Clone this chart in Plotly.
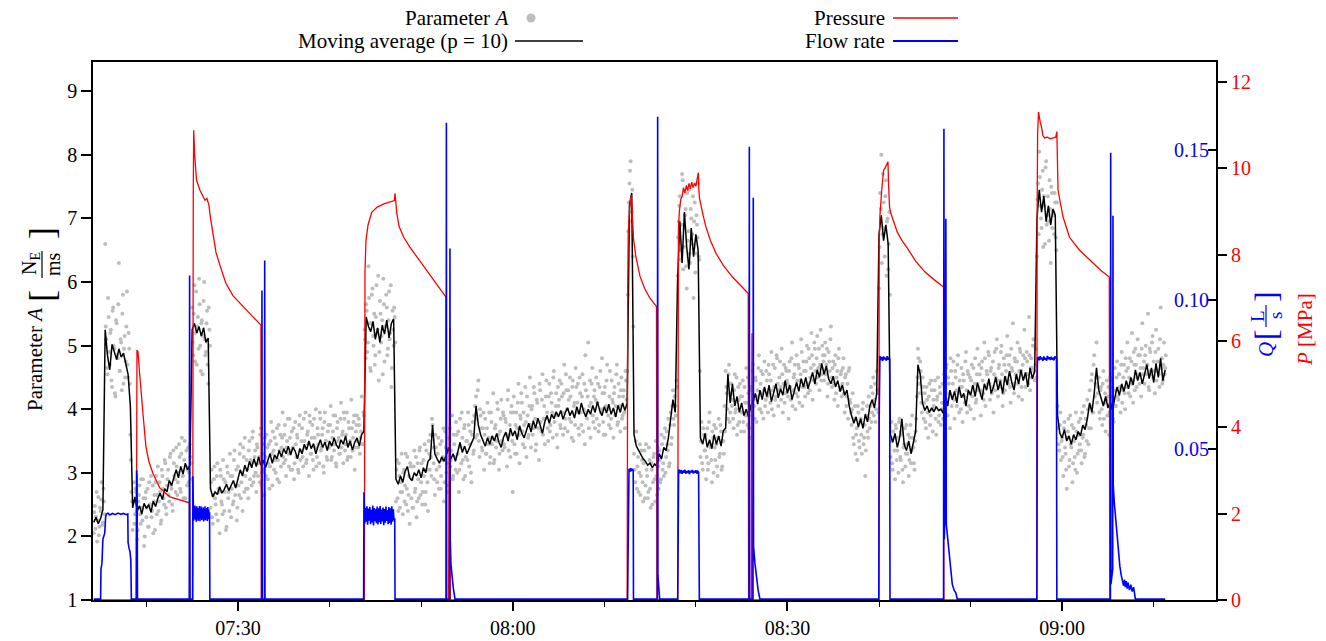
import pandas as pd
import plotly.graph_objects as go

BASE = pd.Timestamp("2021-06-01 07:00:00")
FONT = "Liberation Serif, Times New Roman, serif"

# ---------------- data (time in minutes after 07:00) ----------------
MA_STEP = 0.25     # moving-average samples every 15 s
RAW_STEP = 0.125   # Parameter A samples (two interleaved sample series)

# Moving average (p = 10): (start minute, values)
ma_segments = [
    (14.25, [2.22, 2.30, 2.20, 2.28, 2.42]),
    (15.5, [5.25, 4.85, 4.62, 5.02, 4.90, 4.78, 4.95, 4.82, 4.88, 4.70, 4.55, 4.05]),
    (18.5, [2.45, 2.62, 2.40, 2.48, 2.35, 2.52, 2.44, 2.50, 2.38, 2.55,
            2.47, 2.60, 2.68, 2.58, 2.75, 2.70, 2.88, 2.80, 2.95, 3.05,
            2.92, 3.10, 2.98, 3.15, 3.05, 3.12]),
    (25.0, [5.25, 5.35, 5.20, 5.30, 5.15, 5.28, 5.05, 5.12]),
    (27.0, [2.75, 2.62, 2.70, 2.66, 2.78, 2.68, 2.74, 2.82, 2.72, 2.80,
            2.88, 2.76, 2.92, 3.05, 2.95, 3.12, 3.02, 3.18, 3.08, 3.22,
            3.10, 3.25, 3.12, 3.20, 3.08, 3.18, 3.30, 3.15, 3.28, 3.22,
            3.35, 3.25, 3.38, 3.30, 3.42, 3.28, 3.40, 3.34, 3.22, 3.38,
            3.30, 3.45, 3.36, 3.50, 3.38, 3.46, 3.30, 3.42, 3.52, 3.40,
            3.48, 3.35, 3.50, 3.42, 3.55, 3.44, 3.38, 3.52, 3.45, 3.58,
            3.40, 3.50, 3.36, 3.48, 3.55, 3.42, 3.60]),
    (43.75, [3.65, 5.45, 5.30, 5.22, 5.38, 5.10, 5.28, 5.05, 5.32, 5.18, 5.40, 5.12, 5.35, 5.42]),
    (47.25, [2.90, 2.82, 2.95, 2.85, 3.02, 3.10, 2.92, 2.88, 3.00, 2.95,
             3.05, 2.92, 3.08, 3.00, 3.18, 3.22, 3.75, 3.30, 3.22, 3.15,
             3.25, 3.18, 3.28, 3.40, 3.22, 3.30, 3.18, 3.35, 3.48, 3.32,
             3.42, 3.30, 3.38, 3.45, 3.55, 4.05, 3.75, 3.60, 3.52, 3.42,
             3.55, 3.45, 3.58, 3.50, 3.62, 3.48, 3.40, 3.56, 3.64, 3.50,
             3.70, 3.58, 3.66, 3.52, 3.74, 3.62, 3.55, 3.68, 3.78, 3.64,
             3.82, 3.70, 3.86, 3.75, 3.62, 3.80, 3.90, 3.78, 3.92, 3.85,
             3.96, 3.88, 3.98, 3.84, 3.95, 4.02, 3.90, 3.98, 3.86, 4.04,
             3.92, 4.10, 3.96, 3.88, 4.00, 3.92, 4.06, 3.95, 4.12, 3.98,
             3.90, 4.04, 3.94, 4.08, 3.92, 4.02, 3.88, 4.06, 3.95, 4.10,
             3.98]),
    (72.5, [4.10, 7.20, 7.40]),
    (73.25, [3.60, 3.42, 3.35, 3.28, 3.22, 3.18, 3.12, 3.15, 3.08, 3.14,
             3.10, 3.30, 3.22, 3.40, 3.35, 3.55, 3.90, 4.15, 3.95]),
    (78.0, [6.00, 6.95, 6.30, 7.10, 6.55, 6.20, 6.85, 6.40, 6.75, 6.50]),
    (80.5, [3.55, 3.45, 3.62, 3.40, 3.52, 3.38, 3.60, 3.45, 3.58, 3.42, 3.66,
            3.70, 4.55, 4.10, 4.40, 4.05, 4.20, 3.95, 4.10, 3.90, 4.00, 3.88, 4.05,
            4.12, 4.25, 4.08, 4.30, 4.15, 4.35, 4.20, 4.38, 4.12, 4.28,
            4.40, 4.18, 4.32, 4.22, 4.45, 4.25, 4.38, 4.15, 4.30, 4.42,
            4.28, 4.48, 4.35, 4.50, 4.32, 4.45, 4.58, 4.40, 4.62, 4.50,
            4.72, 4.55, 4.68, 4.48, 4.40, 4.52, 4.35, 4.45, 4.28, 4.38,
            4.22, 4.30, 4.05, 3.90, 3.78, 3.88, 3.72, 3.85, 3.70, 3.92,
            3.80, 4.05, 4.15, 4.02, 4.25]),
    (100.0, [6.75, 7.05, 6.65, 6.90, 6.60]),
    (101.25, [3.60, 3.48, 3.62, 3.40, 3.55, 3.85, 3.45, 3.35, 3.50, 3.30,
              3.45, 3.65, 4.70, 4.55, 4.10, 3.98, 4.05, 3.95, 4.02, 3.96,
              4.04, 3.98, 4.00, 3.94, 4.20, 4.05, 4.30, 4.15, 4.28, 4.10,
              4.35, 4.18, 4.25, 4.05, 4.30, 4.22, 4.38, 4.20, 4.42, 4.28,
              4.15, 4.40, 4.30, 4.48, 4.25, 4.35, 4.50, 4.30, 4.45, 4.25,
              4.52, 4.38, 4.60, 4.42, 4.30, 4.55, 4.40, 4.62, 4.45, 4.58,
              4.35, 4.65, 4.48, 4.60]),
    (117.25, [7.00, 7.45, 7.10, 7.35, 6.95, 7.20, 6.90, 7.15, 7.05]),
    (119.5, [3.90, 3.62, 3.55, 3.68, 3.50, 3.58, 3.45, 3.60, 3.52, 3.65,
             3.58, 3.75, 3.68, 3.85, 4.10, 3.95, 4.25, 4.65, 4.30, 4.15,
             4.05, 4.20, 4.02, 4.12, 3.98, 4.18, 4.35, 4.22, 4.40, 4.28,
             4.45, 4.32, 4.50, 4.38, 4.62, 4.45, 4.58, 4.40, 4.55, 4.70,
             4.48, 4.65, 4.42, 4.72, 4.50, 4.80, 4.45, 4.62]),
]

# Parameter A samples, series 1: (start minute, values every RAW_STEP)
param_a_segments = [
    (14.25, [2.05, 2.48, 2.31, 1.92, 2.62, 2.15, 2.40, 2.85, 2.22, 2.55]),
    (15.5, [6.60, 5.10, 4.55, 5.45, 4.70, 5.25, 4.35, 5.60, 4.95, 4.20, 5.35, 4.80,
            6.30, 4.60, 5.05, 5.50, 4.40, 5.15, 4.75, 5.85, 4.50, 4.95, 3.60, 2.70]),
    (18.5, [2.10, 2.85, 2.35, 2.70, 1.95, 2.55, 2.80, 2.20, 2.45, 2.90,
            1.85, 2.60, 2.30, 2.75, 2.15, 2.50, 2.95, 2.40, 2.05, 2.65,
            2.85, 2.35, 3.10, 2.55, 2.70, 2.25, 2.95, 2.60, 3.20, 2.45,
            2.80, 3.05, 2.55, 3.30, 2.75, 2.40, 3.15, 2.90, 3.40, 2.65,
            3.00, 3.25, 2.70, 3.55, 2.95, 3.20, 2.60, 3.35, 3.05, 2.85,
            3.45, 3.15]),
    (25.0, [5.60, 4.85, 5.95, 5.20, 4.70, 5.45, 6.05, 5.00, 5.35, 4.55, 5.70, 5.10,
            4.90, 5.55, 4.40, 5.25]),
    (27.0, [2.45, 3.05, 2.20, 2.90, 2.60, 2.35, 3.15, 2.75,
            2.05, 2.95, 2.50, 3.20, 2.40, 2.85, 2.15, 3.00,
            2.70, 3.30, 2.30, 2.95, 2.55, 3.35, 2.80, 2.25,
            3.10, 2.65, 3.45, 2.85, 2.40, 3.25, 3.55, 2.75,
            3.05, 2.60, 3.50, 3.20, 2.80, 3.65, 2.95, 3.35,
            2.70, 3.40, 3.15, 2.85, 3.70, 3.00, 3.45, 2.65,
            3.25, 3.60, 2.90, 3.45, 3.10, 3.80, 2.80, 3.35,
            3.55, 3.00, 3.70, 3.20, 2.85, 3.60, 3.40, 3.95,
            3.15, 3.75, 2.95, 3.50, 3.30, 3.85, 3.05, 3.65,
            3.40, 2.90, 3.80, 3.25, 3.55, 3.00, 3.90, 3.35,
            3.70, 3.10, 3.50, 3.95, 3.20, 3.65, 2.95, 3.80,
            3.30, 3.75, 3.05, 3.55, 4.00, 3.25, 3.60, 3.15,
            3.85, 3.40, 3.70, 3.00, 3.95, 3.50, 3.20, 3.75,
            3.45, 4.05, 3.25, 3.65, 3.35, 3.90, 3.10, 3.80,
            3.55, 3.30, 4.10, 3.60, 3.15, 3.85, 3.45, 3.95,
            3.25, 3.70, 3.50, 4.15, 3.35, 3.80, 3.05, 3.65,
            3.90, 3.40, 3.75, 3.55, 4.20, 3.45]),
    (43.75, [3.90, 5.10, 5.65, 4.90, 6.25, 5.35, 4.60, 5.80, 5.15, 5.50, 4.85, 5.95,
             5.25, 4.45, 5.70, 5.05, 5.40, 6.05, 4.75, 5.30, 5.60, 4.95, 5.85, 5.20,
             4.35, 5.55, 5.00, 5.45]),
    (47.25, [2.55, 3.20, 2.40, 2.95, 2.70, 3.30,
             2.35, 3.05, 2.80, 2.50, 3.25, 2.65, 2.20, 3.10,
             2.90, 2.45, 3.35, 2.75, 2.30, 3.15, 2.60, 3.40,
             2.85, 2.50, 3.20, 3.45, 2.70, 3.05, 2.40, 3.30,
             3.60, 2.95, 3.75, 3.15, 2.65, 3.40, 2.85, 3.55,
             3.10, 2.75, 3.50, 3.25, 2.55, 3.65, 3.00, 3.35,
             2.80, 3.70, 3.20, 3.90, 2.95, 3.45, 3.05, 3.60,
             3.30, 2.70, 3.85, 3.15, 3.55, 2.90, 3.75, 3.25,
             3.50, 3.95, 3.10, 3.65, 2.85, 3.80, 3.35, 4.05,
             4.20, 3.60, 4.45, 3.25, 3.90, 3.40, 3.70, 3.05,
             3.85, 3.30, 4.10, 3.55, 3.15, 3.95, 3.45, 4.25,
             3.20, 3.75, 3.50, 4.00, 3.05, 3.65, 4.15, 3.35,
             3.90, 3.40, 3.80, 3.10, 4.30, 3.60, 3.25, 4.05,
             2.70, 4.20, 3.30, 3.95, 3.70, 4.40, 3.15, 3.85,
             4.10, 3.45, 3.75, 4.35, 3.25, 3.90, 3.60, 4.50,
             3.40, 4.05, 3.70, 4.25, 3.35, 4.15, 3.80, 3.20,
             4.30, 3.65, 4.55, 3.85, 3.45, 4.20, 3.95, 3.50,
             4.40, 3.75, 4.10, 3.55, 4.60, 3.90, 4.25, 3.40,
             4.05, 4.45, 3.70, 4.20, 3.60, 4.70, 3.85, 4.30,
             3.65, 4.15, 4.50, 3.80, 4.35, 3.50, 4.10, 4.65,
             3.95, 4.40, 3.60, 4.25, 3.75, 4.55, 4.00, 3.45,
             4.30, 3.85, 5.05, 4.05, 3.55, 4.40, 3.90, 4.20,
             3.70, 4.50, 4.10, 3.65, 4.35, 3.95, 4.80, 3.80,
             4.25, 3.60, 4.45, 4.00, 3.75, 4.60, 3.85, 4.15,
             3.55, 4.35, 4.05, 4.70, 3.80, 4.20, 3.65, 4.50,
             3.90, 4.30, 3.70, 4.45]),
    (72.5, [4.60, 6.80, 7.55, 7.90, 7.10, 6.40]),
    (73.25, [3.30, 2.85, 3.65, 3.10, 2.70, 3.45, 2.95, 3.20, 2.55, 3.35,
             2.80, 3.05, 2.60, 3.40, 2.75, 3.15, 2.50, 3.25, 2.90, 3.50,
             2.65, 3.10, 3.35, 2.85, 3.60, 3.05, 2.95, 3.70, 3.25, 3.45,
             3.85, 3.15, 3.95, 3.55, 4.30, 3.75, 4.05, 4.45]),
    (78.0, [6.10, 6.95, 7.35, 6.50, 7.70, 6.20, 6.85, 7.15, 5.90, 6.65,
            7.45, 6.30, 7.00, 6.75, 5.75, 7.25, 6.45, 6.90, 7.55, 6.35]),
    (80.5, [3.25, 3.80, 3.05, 3.60,
            3.35, 2.90, 3.70, 3.15, 3.95, 3.40, 2.85, 3.55,
            3.75, 3.20, 3.45, 2.95, 3.85, 3.30, 3.65, 3.10,
            3.50, 4.05, 4.60, 4.25, 3.85, 4.70, 3.95, 4.40,
            4.15, 3.70, 4.55, 4.00, 3.60, 4.35, 3.80, 4.20,
            3.95, 4.45, 3.65, 4.10, 4.65, 3.75, 4.25, 3.55,
            4.35, 3.90, 4.70, 4.05, 4.50, 3.80, 4.30, 4.85,
            4.00, 4.60, 4.25, 3.85, 4.75, 4.15, 4.45, 3.95,
            4.55, 4.10, 4.90, 4.30, 3.90, 4.65, 4.20, 4.80,
            4.05, 4.50, 4.35, 4.95, 3.95, 4.70, 4.25, 4.60,
            4.40, 3.85, 4.75, 4.15, 5.05, 4.30, 4.55, 4.00,
            4.85, 4.20, 4.65, 4.45, 5.10, 4.05, 4.75, 4.35,
            4.60, 5.00, 4.25, 4.80, 4.50, 5.20, 4.15, 4.70,
            4.95, 4.40, 5.15, 4.65, 4.30, 5.25, 4.55, 4.85,
            4.45, 5.05, 4.70, 4.20, 4.90, 4.60, 5.30, 4.35,
            4.75, 4.15, 4.85, 4.50, 4.05, 4.95, 4.30, 4.60,
            4.40, 4.80, 3.95, 4.55, 4.20, 3.85, 4.65, 4.10,
            3.75, 4.25, 3.45, 4.05, 3.60, 3.20, 3.95, 3.40,
            3.85, 3.30, 4.10, 3.55, 2.95, 3.90, 3.65, 4.20,
            3.70, 4.35, 3.95, 4.50, 4.15, 3.80, 4.60, 4.25]),
    (100.0, [5.90, 7.40, 8.00, 6.75, 7.25, 6.40, 7.60, 6.95, 6.20, 7.10]),
    (101.25, [3.25, 3.80, 3.05, 3.55, 2.90, 3.70,
              3.35, 3.00, 3.85, 3.20, 3.60, 2.85, 3.45, 3.10,
              3.75, 3.30, 2.95, 3.55, 3.15, 3.90, 3.40, 3.05,
              3.65, 4.20, 4.95, 4.40, 4.75, 4.10, 4.50, 3.85,
              4.25, 3.70, 4.15, 3.55, 4.40, 3.90, 4.30, 3.65,
              4.05, 4.45, 3.60, 4.20, 3.80, 4.35, 3.75, 4.10,
              3.85, 4.55, 4.00, 4.70, 3.90, 4.40, 3.70, 4.60,
              4.20, 4.75, 3.85, 4.50, 4.05, 4.85, 3.95, 4.35,
              4.65, 3.80, 4.45, 4.10, 4.90, 3.95, 4.55, 4.25,
              4.00, 4.70, 4.35, 3.85, 4.80, 4.15, 4.95, 4.30,
              4.55, 3.90, 4.75, 4.25, 5.05, 4.05, 4.60, 4.40,
              4.85, 4.15, 4.65, 4.35, 3.95, 4.90, 4.50, 5.10,
              4.20, 4.70, 4.45, 5.00, 4.05, 4.80, 4.30, 4.60,
              5.15, 4.40, 4.85, 4.10, 4.65, 5.35, 4.25, 4.75,
              4.50, 5.05, 4.20, 4.95, 4.60, 4.15, 4.85, 5.25,
              4.35, 4.90, 4.55, 5.45, 4.30, 4.80, 4.65, 5.10,
              4.45, 4.95]),
    (117.25, [6.40, 7.55, 8.05, 7.20, 6.85, 7.75, 7.35, 6.60, 7.90, 7.05, 6.95, 7.60,
              6.30, 7.40, 7.10, 6.75, 7.25, 6.50]),
    (119.5, [4.05, 3.45, 3.75, 3.20,
             3.55, 2.95, 3.80, 3.30, 2.75, 3.65, 3.10, 3.90,
             3.40, 2.85, 3.70, 3.25, 3.95, 3.00, 3.60, 3.35,
             3.85, 3.15, 3.55, 4.05, 3.30, 3.75, 4.15, 3.45,
             4.30, 3.70, 4.55, 3.95, 4.85, 4.40, 5.05, 4.25,
             4.50, 3.85, 4.35, 3.75, 4.60, 4.10, 3.65, 4.45,
             4.20, 3.60, 4.50, 3.90, 4.35, 3.80, 4.65, 4.05,
             4.75, 4.15, 4.55, 3.95, 4.90, 4.30, 4.70, 4.00,
             4.60, 5.05, 4.25, 4.80, 4.40, 5.20, 4.10, 4.70,
             4.95, 4.35, 5.10, 4.55, 4.85, 4.20, 5.35, 4.65,
             4.40, 5.00, 4.70, 5.50, 4.30, 4.90, 4.55, 5.15,
             4.75, 4.25, 5.25, 4.60, 4.95, 4.35, 5.60, 4.80,
             4.45, 5.05, 4.65]),
]

# Parameter A samples, series 2 (interleaved, half a step later)
param_a_segments_b = [
    (14.3125, [2.38, 2.12, 2.70, 2.25, 2.02, 2.45, 2.58, 2.18, 2.75, 2.35]),
    (15.5625, [5.30, 4.65, 5.75, 4.90, 5.20, 4.45, 5.55, 5.00, 4.25, 5.40, 4.85, 5.65,
               4.60, 5.10, 4.30, 5.80, 4.95, 4.50, 5.30, 4.70, 5.20, 4.40, 3.20, 2.55]),
    (18.5625, [2.55, 2.20, 2.75, 2.40, 2.10, 2.65, 2.35, 2.90, 2.25, 2.60,
               2.00, 2.70, 2.45, 2.15, 2.85, 2.50, 2.30, 2.80, 2.55, 2.10,
               2.95, 2.65, 2.40, 2.85, 2.20, 3.05, 2.75, 2.50, 3.15, 2.35,
               2.90, 2.65, 3.25, 2.80, 2.50, 3.35, 2.95, 2.70, 3.10, 2.85,
               3.45, 2.75, 3.30, 2.95, 2.60, 3.50, 3.10, 2.80, 3.40, 3.00,
               3.25, 2.90]),
    (25.0625, [5.05, 5.50, 4.75, 5.85, 5.30, 4.95, 5.65, 4.60, 5.40, 5.15, 6.00, 4.85,
               5.35, 4.70, 5.60, 5.00]),
    (27.0625, [2.85, 2.30, 2.65, 3.10, 2.50, 2.95, 2.25, 2.70,
               3.05, 2.55, 2.35, 2.90, 2.70, 2.10, 3.10, 2.60,
               2.40, 2.95, 2.75, 2.50, 3.20, 2.65, 3.05, 2.45,
               2.80, 3.30, 2.60, 3.00, 3.40, 2.70, 2.95, 3.20,
               2.75, 3.35, 2.90, 3.15, 3.55, 2.85, 3.25, 3.00,
               3.45, 2.95, 3.25, 3.60, 2.80, 3.30, 3.05, 3.55,
               2.95, 3.40, 3.15, 2.75, 3.50, 3.30, 3.65, 3.05,
               3.20, 3.45, 2.90, 3.75, 3.35, 3.10, 3.55, 3.25,
               3.60, 3.20, 3.40, 3.85, 3.10, 3.55, 3.35, 3.05,
               3.70, 3.15, 3.45, 3.60, 3.05, 3.75, 3.20, 3.50,
               3.25, 3.85, 3.40, 3.15, 3.60, 3.45, 3.90, 3.30,
               3.55, 3.20, 3.85, 3.40, 3.10, 3.70, 3.45, 3.95,
               3.35, 3.60, 3.10, 3.80, 3.50, 3.25, 3.65, 3.40,
               3.75, 3.20, 3.55, 3.90, 3.45, 3.15, 3.70, 3.50,
               3.30, 3.85, 3.40, 3.65, 3.95, 3.35, 3.60, 3.20,
               3.80, 3.45, 3.25, 3.70, 3.55, 3.90, 3.40, 3.75,
               3.50, 3.85, 3.30, 3.65, 3.45, 3.95]),
    (43.8125, [5.25, 4.80, 5.55, 5.05, 5.75, 4.65, 5.35, 5.90, 5.00, 4.70, 5.45, 5.20,
               6.10, 4.90, 5.50, 5.15, 4.55, 5.65, 5.30, 5.80, 4.85, 5.40, 5.10, 5.95,
               4.65, 5.25, 5.60, 5.05]),
    (47.3125, [3.05, 2.60, 3.15, 2.45, 2.85, 2.70,
               3.00, 2.55, 3.30, 2.75, 2.40, 2.95, 3.15, 2.60,
               2.45, 3.10, 2.70, 3.25, 2.55, 2.90, 3.35, 2.65,
               3.15, 2.70, 2.95, 2.50, 3.35, 2.85, 3.50, 3.05,
               3.25, 3.85, 3.40, 2.90, 3.60, 3.05, 3.30, 2.75,
               3.45, 2.95, 3.20, 3.70, 2.85, 3.40, 3.15, 2.70,
               3.55, 3.10, 3.35, 2.90, 3.60, 3.25, 3.80, 3.00,
               3.65, 3.05, 3.40, 3.95, 3.20, 3.70, 2.95, 3.50,
               3.20, 3.75, 3.45, 3.00, 3.60, 3.30, 3.90, 3.55,
               3.85, 4.30, 3.50, 4.00, 3.70, 3.35, 3.95, 3.60,
               3.30, 3.70, 3.45, 3.95, 3.25, 3.80, 3.55, 3.15,
               3.70, 3.40, 4.10, 3.60, 3.30, 3.85, 3.50, 3.95,
               3.45, 3.85, 3.60, 4.15, 3.35, 3.75, 3.95, 3.50,
               3.95, 3.45, 3.75, 3.30, 4.10, 3.60, 3.90, 4.25,
               3.65, 3.95, 3.40, 3.80, 4.20, 3.55, 4.05, 3.75,
               4.00, 3.60, 4.35, 3.85, 3.45, 4.10, 3.70, 4.40,
               3.80, 4.15, 3.60, 4.05, 3.85, 4.45, 3.70, 4.20,
               3.65, 4.25, 3.95, 4.50, 3.80, 4.05, 3.60, 4.35,
               4.15, 3.75, 4.40, 3.95, 4.25, 3.70, 4.55, 4.00,
               4.30, 3.85, 4.20, 3.55, 4.45, 4.05, 3.75, 4.35,
               4.10, 3.70, 4.50, 3.95, 4.20, 3.65, 4.40, 4.85,
               3.95, 4.20, 3.70, 4.45, 4.10, 4.65, 3.80, 4.30,
               4.15, 3.85, 4.40, 3.75, 4.60, 4.00, 4.25, 3.60,
               4.35, 4.05, 4.70, 3.90, 4.20, 3.70, 4.45, 4.10,
               4.25, 3.90, 4.55, 3.75, 4.40, 4.05, 4.30, 3.85,
               4.20, 3.95, 4.60, 4.15]),
    (72.5625, [5.80, 7.25, 7.75, 6.95, 7.45, 5.30]),
    (73.3125, [3.05, 3.50, 2.75, 3.25, 3.00, 2.65, 3.35, 2.85, 3.15, 2.60,
               3.45, 2.95, 2.70, 3.20, 2.45, 3.05, 2.85, 3.30, 2.55, 2.95,
               3.40, 2.75, 3.20, 2.90, 3.45, 3.15, 3.55, 3.00, 3.65, 3.35,
               3.10, 3.75, 3.45, 4.05, 3.85, 4.20, 3.90, 4.35]),
    (78.0625, [6.70, 7.20, 6.35, 6.90, 7.60, 6.55, 7.05, 6.25, 7.40, 6.80,
               6.45, 7.15, 6.60, 7.35, 6.95, 6.15, 7.05, 6.70, 6.40, 4.60]),
    (80.5625, [3.50, 3.15, 3.70, 3.35,
               3.60, 3.25, 3.05, 3.80, 3.45, 3.20, 3.65, 3.00,
               3.40, 3.70, 3.10, 3.55, 3.25, 3.75, 3.05, 3.50,
               3.30, 3.65, 4.35, 4.00, 4.55, 3.80, 4.25, 4.05,
               3.85, 4.30, 3.95, 4.50, 3.75, 4.15, 4.40, 3.65,
               4.20, 3.80, 4.35, 3.90, 4.10, 4.50, 3.70, 4.30,
               4.05, 4.60, 4.15, 3.85, 4.45, 4.20, 4.65, 4.00,
               4.40, 3.95, 4.55, 4.30, 4.05, 4.60, 4.20, 4.70,
               4.25, 4.45, 4.00, 4.70, 4.35, 4.15, 4.85, 4.40,
               4.30, 4.75, 4.15, 4.55, 4.40, 4.10, 4.65, 4.45,
               4.20, 4.60, 4.35, 4.80, 4.05, 4.50, 4.70, 4.25,
               4.45, 4.70, 4.10, 4.55, 4.90, 4.35, 4.60, 4.20,
               4.75, 4.40, 4.95, 4.30, 4.65, 4.85, 4.45, 5.05,
               4.60, 4.80, 4.50, 4.95, 4.70, 4.45, 5.00, 4.75,
               4.85, 4.55, 4.95, 4.40, 4.75, 5.10, 4.50, 4.65,
               4.40, 4.70, 4.25, 4.60, 4.80, 4.35, 4.55, 4.20,
               4.65, 4.25, 4.50, 4.05, 4.40, 4.60, 4.15, 3.95,
               4.00, 3.55, 3.85, 3.30, 3.70, 4.05, 3.50, 3.80,
               3.60, 4.00, 3.45, 3.75, 3.35, 4.05, 3.55, 3.85,
               4.05, 3.80, 4.25, 3.90, 4.40, 4.00, 4.30, 3.95]),
    (100.0625, [6.55, 7.15, 6.30, 7.70, 6.85, 7.35, 6.10, 7.00, 6.60, 5.80]),
    (101.3125, [3.50, 3.15, 3.65, 3.35, 3.75, 3.20,
                3.55, 3.80, 3.25, 3.65, 3.05, 3.40, 3.70, 3.30,
                3.45, 3.60, 3.20, 3.75, 3.35, 3.55, 3.15, 3.50,
                3.85, 4.50, 4.80, 4.25, 4.60, 3.95, 4.35, 4.10,
                3.80, 4.35, 3.95, 4.20, 3.75, 4.45, 4.00, 4.15,
                4.30, 3.85, 4.15, 4.50, 3.90, 4.25, 4.00, 4.40,
                4.10, 4.35, 4.65, 4.15, 4.50, 4.25, 4.80, 4.05,
                4.40, 4.15, 4.60, 4.30, 4.70, 4.25, 4.45, 4.00,
                4.35, 4.55, 4.20, 4.75, 4.30, 4.60, 4.05, 4.50,
                4.45, 4.20, 4.65, 4.40, 4.10, 4.55, 4.35, 4.70,
                4.30, 4.65, 4.45, 4.15, 4.80, 4.35, 4.55, 4.90,
                4.40, 4.60, 4.25, 4.75, 4.55, 4.30, 4.95, 4.45,
                4.65, 4.35, 4.90, 4.55, 4.25, 4.70, 4.50, 4.85,
                4.45, 4.70, 4.35, 4.95, 4.60, 4.40, 4.80, 4.55,
                4.75, 4.40, 4.60, 4.90, 4.35, 4.70, 4.50, 4.80,
                4.55, 4.75, 4.40, 4.85, 4.65, 4.50, 5.00, 4.60,
                4.70, 4.50]),
    (117.3125, [7.30, 6.75, 7.65, 7.00, 7.45, 6.55, 7.20, 7.80, 6.90, 7.35, 6.65, 7.15,
                7.50, 6.85, 7.05, 7.40, 6.70, 7.25]),
    (119.5625, [3.70, 3.35, 3.95, 3.50,
                3.25, 3.70, 3.40, 3.05, 3.55, 3.85, 3.20, 3.45,
                3.75, 3.15, 3.50, 3.05, 3.65, 3.30, 3.80, 3.45,
                3.35, 3.95, 3.60, 3.25, 3.85, 3.50, 4.00, 3.70,
                4.05, 4.45, 3.95, 4.70, 4.20, 4.50, 4.10, 4.35,
                3.95, 4.30, 4.00, 4.40, 3.85, 4.25, 4.15, 3.90,
                4.35, 3.95, 4.20, 4.45, 3.85, 4.30, 4.05, 4.50,
                4.20, 4.55, 4.35, 4.70, 4.10, 4.50, 4.25, 4.80,
                4.35, 4.65, 4.50, 4.20, 4.75, 4.45, 4.90, 4.30,
                4.70, 4.50, 4.85, 4.40, 4.65, 4.95, 4.55, 4.75,
                4.85, 4.55, 4.70, 4.35, 4.95, 4.60, 5.05, 4.50,
                4.60, 4.90, 4.45, 4.75, 4.55, 5.10, 4.65, 4.40,
                4.70, 4.55, 4.85]),
]

# Pressure [MPa]: (minute, value)
pressure_points = [
    (14.25, 0), (18.90, 0), (18.97, 5.79), (19.08, 5.75), (19.26, 5.25), (19.40, 4.85),
    (19.62, 4.33), (19.95, 3.55), (20.28, 3.20), (20.72, 2.93), (21.48, 2.59), (22.57, 2.39),
    (23.67, 2.31), (24.70, 2.25), (24.75, 0),
    (25.05, 0), (25.12, 9.5), (25.17, 10.88), (25.27, 10.3), (25.48, 9.72), (25.85, 9.49),
    (26.18, 9.35), (26.40, 9.26), (26.61, 9.30), (26.83, 9.14), (27.0, 8.85), (27.27, 8.45),
    (27.60, 8.05), (28.03, 7.75), (28.69, 7.33), (29.45, 7.05), (30.55, 6.79), (31.53, 6.58),
    (32.51, 6.37), (32.55, 0),
    (43.80, 0), (43.87, 7.6), (43.98, 8.33), (44.2, 8.68), (44.6, 8.98), (45.2, 9.10),
    (46.0, 9.18), (46.8, 9.22), (47.08, 9.25), (47.15, 9.42), (47.22, 9.20), (47.35, 8.95),
    (47.6, 8.65), (48.1, 8.40), (48.75, 8.18), (49.85, 7.85), (50.95, 7.52), (52.0, 7.22),
    (52.7, 7.02), (52.74, 0),
    (53.0, 0), (53.05, 3.5), (53.1, 5.6), (53.15, 6.3), (53.18, 0),
    (72.50, 0), (72.56, 7.2), (72.62, 8.5), (72.75, 9.0), (72.92, 9.38), (73.0, 9.2),
    (73.1, 8.7), (73.2, 8.35), (73.45, 7.95), (73.9, 7.50), (74.4, 7.22), (74.95, 7.0),
    (75.7, 6.80), (75.75, 0),
    (78.02, 0), (78.05, 5.8), (78.1, 8.6), (78.2, 9.0), (78.35, 9.28), (78.5, 9.35),
    (78.65, 9.55), (78.8, 9.42), (78.95, 9.60), (79.1, 9.48), (79.25, 9.65), (79.4, 9.52),
    (79.55, 9.68), (79.7, 9.55), (79.85, 9.66), (80.0, 9.58), (80.15, 9.72), (80.27, 9.90),
    (80.33, 9.50), (80.4, 9.30), (80.8, 8.9), (81.1, 8.64), (81.6, 8.32), (82.2, 8.03),
    (83.0, 7.75), (84.0, 7.48), (85.0, 7.26), (85.72, 7.10), (85.76, 0),
    (86.05, 0), (86.1, 4.5), (86.13, 6.18), (86.16, 0),
    (99.98, 0), (100.02, 8.3), (100.1, 8.9), (100.3, 9.5), (100.5, 9.95), (100.7, 10.02),
    (100.9, 10.1), (100.98, 10.15), (101.05, 9.6), (101.15, 9.1), (101.3, 8.95), (101.6, 8.75),
    (102.0, 8.52), (102.5, 8.33), (103.0, 8.18), (104.0, 7.85), (105.0, 7.6), (106.0, 7.42),
    (107.05, 7.25), (107.08, 0),
    (117.22, 0), (117.27, 9.0), (117.32, 10.8), (117.42, 11.3), (117.52, 11.15), (117.62, 11.05),
    (117.75, 10.95), (117.9, 10.75), (118.1, 10.70), (118.4, 10.72), (118.7, 10.68), (119.0, 10.70),
    (119.3, 10.72), (119.42, 10.85), (119.47, 9.9), (119.55, 9.5), (119.8, 9.2), (120.1, 8.87),
    (120.8, 8.40), (121.9, 8.10), (123.4, 7.80), (124.3, 7.62), (125.15, 7.48), (125.2, 0),
    (131.25, 0),
]

# Flow rate [L/s]: (minute, value)
flow_points = [
    (14.25, 0), (15.00, 0), (15.04, 0.010), (15.15, 0.012), (15.25, 0.020), (15.45, 0.022),
    (15.55, 0.0275), (15.65, 0.0285), (15.8, 0.0287), (16.0, 0.0281), (16.3, 0.0286), (16.6, 0.0282),
    (16.9, 0.0287), (17.2, 0.0283), (17.5, 0.0286), (17.8, 0.0282), (17.97, 0.0284), (18.0, 0.019),
    (18.1, 0.017), (18.2, 0.016), (18.3, 0.013), (18.36, 0),
    (18.90, 0), (18.93, 0.043), (18.98, 0.041), (19.03, 0),
    (24.68, 0), (24.72, 0.108), (24.76, 0),
    (25.05, 0), (25.08, 0.041), (25.12, 0.031),
    (25.15, .0262), (25.2, .0308), (25.25, .0270), (25.3, .0312), (25.35, .0265), (25.4, .0302),
    (25.45, .0258), (25.5, .0310), (25.55, .0268), (25.6, .0305), (25.65, .0262), (25.7, .0300),
    (25.75, .0272), (25.8, .0311), (25.85, .0260), (25.9, .0303), (25.95, .0269), (26.0, .0309),
    (26.05, .0264), (26.1, .0298), (26.15, .0271), (26.2, .0306), (26.25, .0259), (26.3, .0301),
    (26.35, .0266), (26.4, .0310), (26.45, .0263), (26.5, .0299), (26.55, .0270), (26.6, .0304),
    (26.65, .0261), (26.7, .0307), (26.75, .0267), (26.8, .0300), (26.85, .0272), (26.9, .0290),
    (26.93, 0),
    (32.59, 0), (32.62, 0.103), (32.65, 0), (32.89, 0), (32.92, 0.113), (32.95, 0),
    (43.72, 0), (43.76, 0.0357), (43.8, 0.030),
    (43.84, .0252), (43.92, .0305), (44.00, .0258), (44.08, .0310), (44.16, .0248), (44.24, .0302),
    (44.32, .0262), (44.40, .0308), (44.48, .0250), (44.56, .0298), (44.64, .0256), (44.72, .0312),
    (44.80, .0246), (44.88, .0304), (44.96, .0260), (45.04, .0300), (45.12, .0253), (45.20, .0309),
    (45.28, .0249), (45.36, .0303), (45.44, .0257), (45.52, .0311), (45.60, .0251), (45.68, .0299),
    (45.76, .0259), (45.84, .0306), (45.92, .0247), (46.00, .0301), (46.08, .0255), (46.16, .0309),
    (46.24, .0261), (46.32, .0297), (46.40, .0250), (46.48, .0307), (46.56, .0254), (46.64, .0303),
    (46.72, .0248), (46.80, .0310), (46.88, .0258), (46.96, .0300), (47.04, .0263),
    (47.12, 0.027), (47.15, 0),
    (52.73, 0), (52.76, 0.159), (52.79, 0), (53.12, 0), (53.15, 0.117), (53.18, 0.020),
    (53.25, 0.012), (53.35, 0.008), (53.5, 0.004), (53.65, 0.001), (53.7, 0),
    (72.55, 0), (72.6, 0.020), (72.64, 0.038), (72.7, 0.0435), (72.8, 0.0425), (72.9, 0.0437),
    (73.0, 0.0430), (73.1, 0.0434), (73.16, 0.0428), (73.19, 0),
    (75.8, 0), (75.83, 0.161), (75.86, 0.008), (75.95, 0.004), (76.05, 0),
    (78.02, 0), (78.05, 0.030), (78.08, 0.040), (78.12, 0.0433),
    (78.2, .0428), (78.3, .0420), (78.4, .0431), (78.5, .0418), (78.6, .0429), (78.7, .0422),
    (78.8, .0432), (78.9, .0419), (79.0, .0427), (79.1, .0421), (79.2, .0430), (79.3, .0417),
    (79.4, .0428), (79.5, .0423), (79.6, .0431), (79.7, .0420), (79.8, .0426), (79.9, .0422),
    (80.0, .0430), (80.1, .0419), (80.2, .0427), (80.3, .0424), (80.38, 0),
    (85.81, 0), (85.84, 0.151), (85.87, 0), (86.24, 0), (86.27, 0.134), (86.3, 0.0177),
    (86.45, 0.012), (86.6, 0.007), (86.8, 0.003), (87.0, 0),
    (99.98, 0), (100.02, 0.060), (100.05, 0.080),
    (100.1, .0812), (100.2, .0798), (100.3, .0808), (100.4, .0795), (100.5, .0810), (100.6, .0800),
    (100.7, .0806), (100.8, .0796), (100.9, .0811), (101.0, .0799), (101.1, .0807),
    (101.17, 0.0802), (101.2, 0),
    (107.05, 0), (107.09, 0.157), (107.13, 0.02), (107.22, 0.03), (107.3, 0.127), (107.35, 0.025),
    (107.45, 0.022), (107.6, 0.015), (107.8, 0.009), (108.0, 0.005), (108.2, 0.003), (108.4, 0.002),
    (108.55, 0),
    (117.24, 0), (117.28, 0.075), (117.31, 0.0805),
    (117.4, .0808), (117.5, .0797), (117.6, .0811), (117.7, .0800), (117.8, .0806), (117.9, .0795),
    (118.0, .0810), (118.1, .0799), (118.2, .0805), (118.3, .0796), (118.4, .0812), (118.5, .0801),
    (118.6, .0807), (118.7, .0798), (118.8, .0809), (118.9, .0800), (119.0, .0804), (119.1, .0797),
    (119.2, .0810), (119.3, .0802), (119.38, 0.0802), (119.42, 0),
    (125.27, 0), (125.3, 0.149), (125.33, 0.005), (125.52, 0.01), (125.55, 0.128), (125.58, 0.038),
    (125.7, 0.032), (125.85, 0.026), (125.96, 0.022), (126.15, 0.015), (126.3, 0.011), (126.45, 0.008),
    (126.6, 0.006), (126.7, 0.0045), (126.8, 0.0065), (126.9, 0.004), (127.0, 0.006), (127.1, 0.0035),
    (127.2, 0.0055), (127.35, 0.003), (127.5, 0.0048), (127.65, 0.0025), (127.8, 0.004), (127.95, 0.001),
    (128.0, 0), (131.25, 0),
]

x_range_minutes = [14.17, 136.8]
left_ticks = [1, 2, 3, 4, 5, 6, 7, 8, 9]
pressure_ticks = [0, 2, 4, 6, 8, 10, 12]
flow_ticks = [0.05, 0.10, 0.15]
flow_ticktext = ["0.05", "0.10", "0.15"]


# ---------------- helpers ----------------
def expand(segments, step):
    t, v = [], []
    for start, vals in segments:
        for k, val in enumerate(vals):
            t.append(start + k * step)
            v.append(val)
    return t, v


def to_time(minutes):
    return [BASE + pd.Timedelta(minutes=float(m)) for m in minutes]


ma_t, ma_v = expand(ma_segments, MA_STEP)
raw_t1, raw_v1 = expand(param_a_segments, RAW_STEP)
raw_t2, raw_v2 = expand(param_a_segments_b, RAW_STEP)
raw_t, raw_v = raw_t1 + raw_t2, raw_v1 + raw_v2
p_t, p_v = zip(*pressure_points)
q_t, q_v = zip(*flow_points)

# plot-area geometry in pixels (for legend / title placement)
L, R, T, B = 93, 1216, 62, 600


def px(xp):
    return (xp - L) / (R - L)


def py(yp):
    return (B - yp) / (B - T)


fig = go.Figure()
fig.add_trace(go.Scatter(x=to_time(raw_t), y=raw_v, mode="markers", name="Parameter A",
                         marker=dict(color="#bdbdbd", size=4, line=dict(width=0)), yaxis="y"))
fig.add_trace(go.Scatter(x=to_time(ma_t), y=ma_v, mode="lines", name="Moving average (p = 10)",
                         line=dict(color="black", width=1.5), yaxis="y"))
fig.add_trace(go.Scatter(x=to_time(p_t), y=list(p_v), mode="lines", name="Pressure",
                         line=dict(color="#ff0000", width=1.3), yaxis="y2"))
fig.add_trace(go.Scatter(x=to_time(q_t), y=list(q_v), mode="lines", name="Flow rate",
                         line=dict(color="#0000ff", width=1.6), yaxis="y3"))

xr = to_time(x_range_minutes)
fig.update_layout(
    width=1326, height=641,
    margin=dict(l=L, r=1326 - R, t=T, b=641 - B, autoexpand=False),
    paper_bgcolor="white", plot_bgcolor="white",
    showlegend=False,
    font=dict(family=FONT, size=20, color="black"),
    xaxis=dict(type="date", range=xr, tickformat="%H:%M", automargin=False,
               layer="below traces",
               dtick=30 * 60 * 1000, tick0=BASE + pd.Timedelta(minutes=30),
               ticks="outside", ticklen=9, tickwidth=1.5, tickcolor="black",
               minor=dict(dtick=10 * 60 * 1000, tick0=BASE, ticks="outside", ticklen=5,
                          tickwidth=1.2, tickcolor="black", showgrid=False),
               showline=True, linecolor="black", linewidth=1.5, mirror=True,
               showgrid=False, zeroline=False, tickfont=dict(size=20)),
    yaxis=dict(range=[1, 9.46], tickvals=left_ticks, ticks="outside", ticklen=10,
               automargin=False,
               tickwidth=1.5, tickcolor="black", showline=True, linecolor="black",
               linewidth=1.5, mirror=True, showgrid=False, zeroline=False,
               tickfont=dict(size=20)),
    yaxis2=dict(overlaying="y", side="right", range=[0, 12.46], tickvals=pressure_ticks,
                automargin=False,
                ticks="outside", ticklen=10, tickwidth=1.5, tickcolor="black",
                tickfont=dict(color="#ff0000", size=20), showgrid=False, zeroline=False,
                showline=False),
    yaxis3=dict(overlaying="y", side="right", range=[-0.0003, 0.1793], tickvals=flow_ticks,
                automargin=False,
                ticktext=flow_ticktext, ticks="inside", ticklen=8, tickwidth=1.5,
                tickcolor="black", ticklabelposition="inside",
                tickfont=dict(color="#0000ff", size=20), showgrid=False, zeroline=False,
                showline=False),
)


def text(xp, yp, s, size=20, color="black", angle=0, xanchor="center"):
    fig.add_annotation(x=px(xp), y=py(yp), xref="paper", yref="paper", text=s,
                       showarrow=False, textangle=angle, xanchor=xanchor, yanchor="middle",
                       font=dict(family=FONT, size=size, color=color))


# legend (text on the left, symbol on the right)
text(510, 18, "Parameter <i>A</i>", size=21, xanchor="right")
text(510, 41, "Moving average (p = 10)", size=21, xanchor="right")
text(887, 18, "Pressure", size=21, xanchor="right")
text(887, 41, "Flow rate", size=21, xanchor="right")
fig.add_shape(type="circle", xref="paper", yref="paper", x0=px(526.5), x1=px(535.5),
              y0=py(22.5), y1=py(13.5), fillcolor="#bdbdbd", line=dict(width=0))
fig.add_shape(type="line", xref="paper", yref="paper", x0=px(515), x1=px(583),
              y0=py(41), y1=py(41), line=dict(color="black", width=1.5))
fig.add_shape(type="line", xref="paper", yref="paper", x0=px(893), x1=px(958),
              y0=py(18), y1=py(18), line=dict(color="#ff0000", width=1.3))
fig.add_shape(type="line", xref="paper", yref="paper", x0=px(893), x1=px(958),
              y0=py(41), y1=py(41), line=dict(color="#0000ff", width=2))

# left axis title: Parameter A [N_E / ms]
text(35, 360, "Parameter <i>A</i>", size=21, angle=-90)
text(42, 296, "[", size=36, angle=-90)
text(42, 233, "]", size=36, angle=-90)
text(30, 264, "N<sub>E</sub>", size=20, angle=-90)
text(53, 264, "ms", size=20, angle=-90)
fig.add_shape(type="line", xref="paper", yref="paper", x0=px(42), x1=px(42),
              y0=py(251), y1=py(278), line=dict(color="black", width=1.2))

# right axis titles: Q [L / s] and P [MPa]
text(1266, 350, "<i>Q</i>", size=21, color="#0000ff", angle=-90)
text(1266, 335, "[", size=32, color="#0000ff", angle=-90)
text(1266, 297, "]", size=32, color="#0000ff", angle=-90)
text(1257, 316, "L", size=19, color="#0000ff", angle=-90)
text(1275, 316, "s", size=19, color="#0000ff", angle=-90)
fig.add_shape(type="line", xref="paper", yref="paper", x0=px(1266), x1=px(1266),
              y0=py(305), y1=py(327), line=dict(color="#0000ff", width=1.2))
text(1305, 330, "<i>P</i> [MPa]", size=21, color="#ff0000", angle=-90)

fig.write_html("out.html")
